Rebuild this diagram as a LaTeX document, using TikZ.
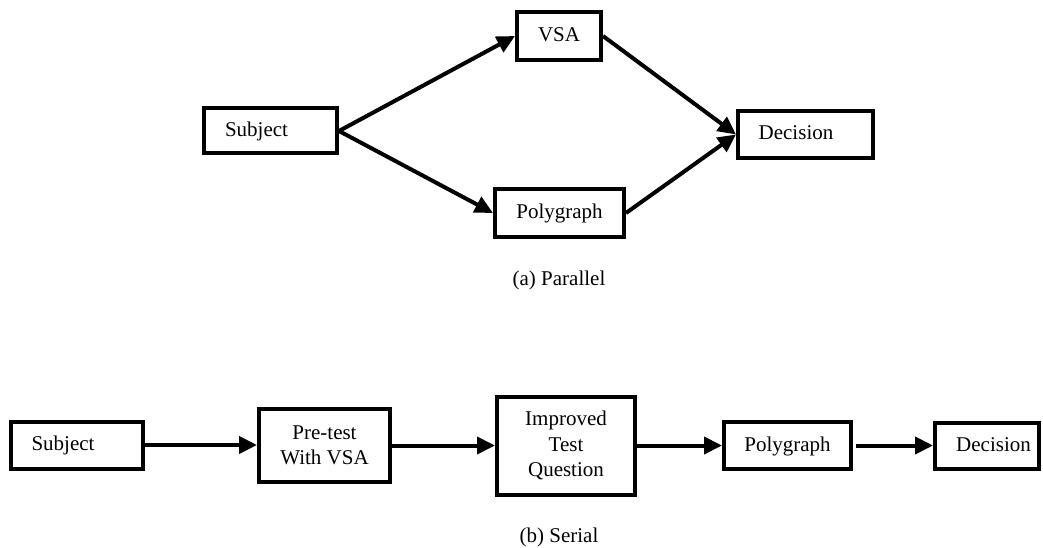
\documentclass[tikz,border=0pt]{standalone}
\usepackage{fontspec}
\setmainfont{Liberation Serif}
\usetikzlibrary{arrows.meta}
\begin{document}
\begin{tikzpicture}[x=1pt,y=-1pt,
  box/.style={draw, line width=4pt, inner sep=0pt,
    font=\fontsize{21}{25.5}\selectfont},
  single/.style={text height=15pt, text depth=4pt},
  multi/.style={align=center},
  arr/.style={line width=4pt, -{Triangle[length=18pt,width=17pt]}},
  captext/.style={inner sep=0pt, font=\fontsize{21}{25}\selectfont}]
\useasboundingbox (0,0) rectangle (1043,548);
% (a) Parallel
\node[box, single, minimum width=133pt, minimum height=45pt] (subA) at (270.5,131) {Subject\hspace*{28pt}};
\node[box, single, minimum width=84pt, minimum height=48pt] (vsa) at (559,36) {VSA};
\node[box, single, minimum width=129pt, minimum height=48pt] (polyA) at (559.5,213) {Polygraph};
\node[box, single, minimum width=135pt, minimum height=47pt] (decA) at (805.5,134.5) {Decision\hspace*{19pt}};
\draw[arr] (subA.east) -- (vsa.west);
\draw[arr] (subA.east) -- (polyA.west);
\draw[arr] (vsa.east) -- (decA.west);
\draw[arr] (polyA.east) -- (decA.west);
\node[captext] (capA) at (559,280) {(a) Parallel};
% (b) Serial
\node[box, single, minimum width=132pt, minimum height=47pt] (subB) at (77,445) {Subject\hspace*{28pt}};
\node[box, multi, minimum width=131pt, minimum height=73pt] (pre) at (324.5,445.5) {Pre-test\\With VSA};
\node[box, multi, minimum width=138pt, minimum height=98pt] (imp) at (566,445.5) {Improved\\Test\\Question};
\node[box, single, minimum width=127pt, minimum height=47pt] (polyB) at (787.5,445.5) {Polygraph};
\node[box, single, minimum width=104pt, minimum height=46pt] (decB) at (987,446) {\hspace*{13pt}Decision};
\draw[arr] (subB.east) -- (subB.east -| pre.west);
\draw[arr] (pre.east) -- (pre.east -| imp.west);
\draw[arr] (imp.east) -- (imp.east -| polyB.west);
\draw[arr] ([xshift=3pt]polyB.east) -- (polyB.east -| decB.west);
\node[captext] (capB) at (559,537) {(b) Serial};
\end{tikzpicture}
\end{document}
